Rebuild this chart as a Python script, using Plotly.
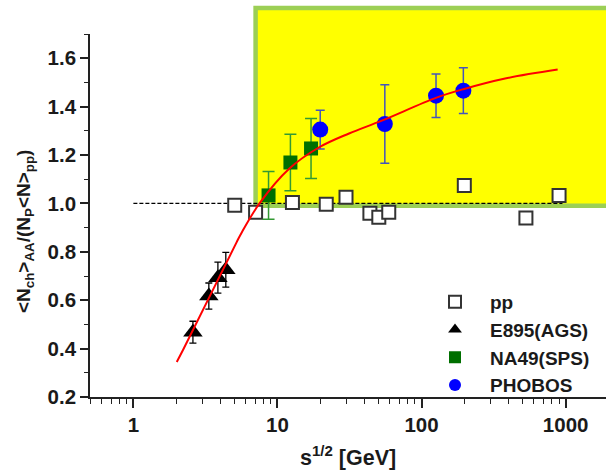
import plotly.graph_objects as go
import math

# ---------------- data ----------------
pp_x = [5.05, 7.05, 12.7, 21.8, 29.9, 43.8, 50.5, 59.2, 198, 530, 900]
pp_y = [0.992, 0.963, 1.004, 0.996, 1.025, 0.959, 0.943, 0.963, 1.074, 0.94, 1.033]

e895_x = [2.59, 3.34, 3.86, 4.38]
e895_y = [0.468, 0.617, 0.693, 0.726]
e895_err = [0.045, 0.054, 0.064, 0.072]

na49_x = [8.67, 12.3, 17.1]
na49_y = [1.033, 1.169, 1.227]
na49_err = [0.099, 0.117, 0.124]

phobos_x = [19.8, 55.6, 126, 195]
phobos_y = [1.305, 1.328, 1.445, 1.466]
phobos_err = [0.080, 0.162, 0.090, 0.095]

fit_x = [2.0, 2.21, 5.21, 5.65, 7.5, 12.1, 19.5, 31.4, 53, 127, 195, 380, 880]
fit_y = [0.345, 0.394, 0.84, 0.88, 1.0, 1.144, 1.232, 1.289, 1.342, 1.437, 1.472, 1.516, 1.553]

ref_x = [1, 950]
ref_y = [1.0, 1.0]

x_ticks = [1, 10, 100, 1000]
x_ticktext = ["1", "10", "100", "1000"]
y_ticks = [0.2, 0.4, 0.6, 0.8, 1.0, 1.2, 1.4, 1.6]

# ---------------- layout constants ----------------
W, H = 606, 474
L, R, T, B = 90, 0, 34, 77
xr = [math.log10(0.5), 3.28]
yr = [0.2, 1.7]
pw, ph = W - L - R, H - T - B

def px_x(v):  # paper x of data value (log axis)
    return (math.log10(v) - xr[0]) / (xr[1] - xr[0])

def px_y(v):
    return (v - yr[0]) / (yr[1] - yr[0])

FONT = "Liberation Sans, Arial, sans-serif"
TXT = "#1a1a1a"

fig = go.Figure()

fig.add_trace(go.Scatter(x=ref_x, y=ref_y, mode="lines", showlegend=False,
                         line=dict(color="black", width=1.3, dash="4px,2px")))

fig.add_trace(go.Scatter(x=pp_x, y=pp_y, mode="markers", name="pp",
                         marker=dict(symbol="square", size=13, color="white",
                                     line=dict(color="#333333", width=2))))

fig.add_trace(go.Scatter(x=e895_x, y=e895_y, mode="markers", name="E895(AGS)",
                         error_y=dict(type="data", array=e895_err, color="black",
                                      thickness=1.3, width=3.5),
                         marker=dict(symbol="triangle-up", size=17, color="black")))

fig.add_trace(go.Scatter(x=na49_x, y=na49_y, mode="markers", name="NA49(SPS)",
                         error_y=dict(type="data", array=na49_err, color="#339933",
                                      thickness=1.5, width=6),
                         marker=dict(symbol="square", size=14, color="#006F00")))

fig.add_trace(go.Scatter(x=phobos_x, y=phobos_y, mode="markers", name="PHOBOS",
                         error_y=dict(type="data", array=phobos_err, color="#4455BB",
                                      thickness=1.5, width=4.5),
                         marker=dict(symbol="circle", size=16, color="#0000FF")))

fig.add_trace(go.Scatter(x=fit_x, y=fit_y, mode="lines", showlegend=False,
                         line=dict(color="red", width=2, shape="spline", smoothing=1)))

# yellow region
fig.add_shape(type="rect", xref="paper", yref="paper",
              x0=px_x(7.05), x1=1.05, y0=px_y(0.99), y1=(H - B - 8) / ph,
              fillcolor="#FFFF00", line=dict(color="#9CCF55", width=4.5), layer="below")

fig.update_layout(
    width=W, height=H,
    margin=dict(l=L, r=R, t=T, b=B),
    paper_bgcolor="white", plot_bgcolor="rgba(0,0,0,0)",
    font=dict(family=FONT, color=TXT),
    showlegend=True,
    legend=dict(x=(420 - L) / pw, xanchor="left", y=(H - B - 283) / ph, yanchor="top",
                bgcolor="rgba(0,0,0,0)", itemwidth=60, itemsizing="constant",
                font=dict(family=FONT, size=19, color=TXT, weight="bold"),
                tracegroupgap=0),
    xaxis=dict(type="log", range=xr, showgrid=False, zeroline=False,
               showline=True, linecolor="#222222", linewidth=1.6,
               ticks="outside", ticklen=9, tickwidth=1.5, tickcolor="#222222",
               tickvals=x_ticks, ticktext=x_ticktext,
               tickfont=dict(family=FONT, size=20.5, color=TXT, weight="bold"),
               minor=dict(ticks="outside", ticklen=5, tickwidth=1.2, tickcolor="#222222",
                          tickvals=[m * 10 ** e for e in range(-1, 4) for m in range(2, 10)
                                    if 0.5 <= m * 10 ** e <= 1900]),
               ),
    yaxis=dict(range=yr, showgrid=False, zeroline=False,
               showline=True, linecolor="#222222", linewidth=1.6,
               ticks="outside", ticklen=8, tickwidth=1.5, tickcolor="#222222",
               tickvals=y_ticks, tickformat=".1f",
               tickfont=dict(family=FONT, size=20.5, color=TXT, weight="bold"),
               minor=dict(ticks="outside", ticklen=4, tickwidth=1.2, tickcolor="#222222",
                          dtick=0.1)),
)

fig.add_annotation(xref="paper", yref="paper", x=0.5, y=-(456 - (H - B)) / ph,
                   xanchor="center", yanchor="middle", showarrow=False,
                   text="<b>s<sup>1/2</sup> [GeV]</b>",
                   font=dict(family=FONT, size=21.5, color=TXT))

fig.add_annotation(xref="paper", yref="paper", x=(25 - L) / pw, y=(H - B - 232) / ph,
                   xanchor="center", yanchor="middle", showarrow=False, textangle=-90,
                   text="<b>&lt;N<sub>ch</sub>&gt;<sub>AA</sub>/(N<sub>P</sub>&lt;N&gt;<sub>pp</sub>)</b>",
                   font=dict(family=FONT, size=19, color=TXT))

fig.write_html("out.html")
